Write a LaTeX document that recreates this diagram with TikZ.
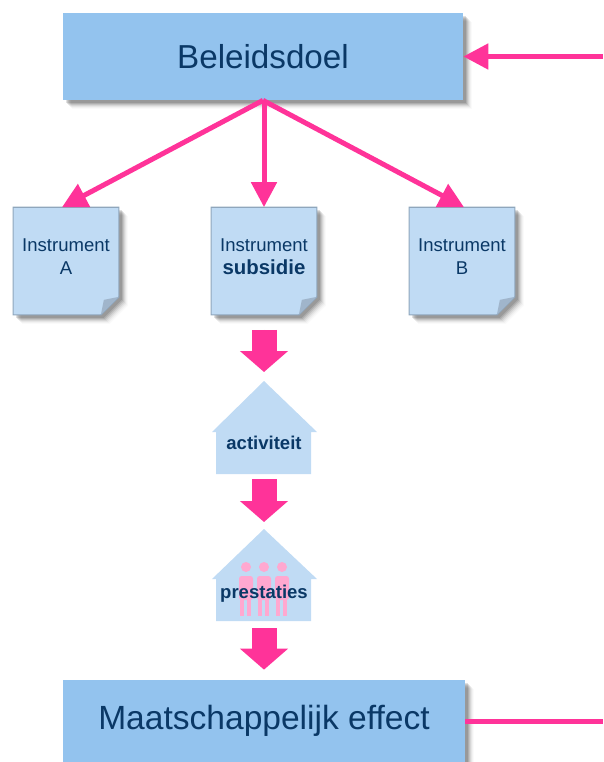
\documentclass[tikz,border=0pt]{standalone}
\usepackage{fontspec}
\setmainfont{Liberation Sans}
\usetikzlibrary{arrows.meta,backgrounds,calc}
\definecolor{doel-bl}{RGB}{147, 195, 238}
\definecolor{inst-bl}{RGB}{192, 219, 244}
\definecolor{inst-ed}{RGB}{143, 166, 188}
\definecolor{inst-fo}{RGB}{160, 181, 203}
\definecolor{text-bl}{RGB}{10, 56, 102}
\definecolor{roze}{RGB}{255, 51, 153}
\definecolor{roze-li}{RGB}{255, 168, 208}
\newlength{\pix}
\setlength{\pix}{0.02cm}
\tikzstyle{softshadow}=[
  preaction={fill=black,opacity=0.02,transform canvas={shift={(9,9)}}},
  preaction={fill=black,opacity=0.03,transform canvas={shift={(8,8)}}},
  preaction={fill=black,opacity=0.05,transform canvas={shift={(7,7)}}},
  preaction={fill=black,opacity=0.07,transform canvas={shift={(6,6)}}},
  preaction={fill=black,opacity=0.09,transform canvas={shift={(5,5)}}},
  preaction={fill=black,opacity=0.11,transform canvas={shift={(4,4)}}},
  preaction={fill=black,opacity=0.12,transform canvas={shift={(3,3)}}}]
\tikzstyle{goal}=[rectangle,softshadow,fill=doel-bl,text=text-bl,inner sep=0pt,font=\fontsize{18.9}{22}\selectfont]
\tikzstyle{notebox}=[rectangle,minimum width=105\pix,minimum height=107\pix,inner sep=0pt]
\tikzstyle{notepaper}=[softshadow,draw=inst-ed,line width=1.2\pix,fill=inst-bl]
\tikzstyle{notetext}=[text=text-bl,align=center,inner sep=0pt,font=\fontsize{10.55}{13}\selectfont]
\tikzstyle{housetext}=[text=text-bl,inner sep=0pt,font=\fontsize{10.55}{13}\selectfont\bfseries]
\tikzstyle{arrow}=[draw=roze,line width=5\pix,-{Triangle[length=0.5cm,width=0.5cm]}]
\tikzstyle{blockarrow}=[draw=roze,fill=roze,line width=25\pix,-{Triangle[length=0.42cm,width=0.94cm]}]

\begin{document}
\begin{tikzpicture}[x=0.02cm,y=-0.02cm]
  \useasboundingbox (0,0) rectangle (603,762);

  % Goal and effect
  \node [goal,minimum width=400\pix,minimum height=87\pix] (doel) at (263,56.5) {Beleidsdoel};
  \node [goal,minimum width=402\pix,minimum height=82\pix,font=\fontsize{19.1}{22}\selectfont] (effect) at (264,721) {Maatschappelijk effect};

  % Instruments
  \node [notebox] (insta) at (66,261) {};
  \node [notebox] (instb) at (264,261) {};
  \node [notebox] (instc) at (462,261) {};

  \begin{scope}[on background layer]
    \foreach \n in {insta,instb,instc} {
      \draw [notepaper] (\n.north west) -- (\n.north east) -- ($(\n.south east)+(0,-18)$) -- ($(\n.south east)+(-18,0)$) -- (\n.south west) -- cycle;
      \fill [inst-fo] ($(\n.south east)+(0,-18)$) -- ($(\n.south east)+(-15,-15)$) -- ($(\n.south east)+(-18,0)$) -- cycle;
    }
  \end{scope}

  \node [notetext] (instalabel) at (66,257) {Instrument\\A};
  \node [notetext] (instblabel) at (264,257) {Instrument\\{\fontsize{11.6}{13}\selectfont\bfseries subsidie}};
  \node [notetext] (instclabel) at (462,257) {Instrument\\B};

  % Houses
  \coordinate (activiteittop) at (264,381);
  \coordinate (activiteitvoet) at (264,474);
  \coordinate (prestatiestop) at (264,529);
  \coordinate (prestatiesvoet) at (264,621);
  \fill [inst-bl] (activiteittop) -- (317,432) -- (311,432) -- (311,474) -- (216,474) -- (216,432) -- (212,432) -- cycle;
  \fill [inst-bl] (prestatiestop) -- (317,579) -- (311,579) -- (311,621) -- (216,621) -- (216,579) -- (212,579) -- cycle;

  \foreach \x in {246,264,282} {
    \fill [roze-li] (\x,567) circle (5);
    \fill [roze-li,rounded corners=1.5] (\x-7,576) rectangle (\x+7,600);
    \fill [roze-li] (\x-6,598) rectangle (\x-2,616);
    \fill [roze-li] (\x+1,598) rectangle (\x+5,616);
  }

  \node [housetext] (activiteit) at (264,443) {activiteit};
  \node [housetext] (prestaties) at (264,594) {prestaties};

  % Arrows
  \coordinate (terug) at (603,56.5);
  \coordinate (uit) at (603,721);
  \draw [arrow] (terug) -- (doel.east);
  \draw [draw=roze,line width=5\pix] (effect.east) -- (uit);
  \draw [arrow] (doel.south) -- ($(insta.north)+(-4,0)$);
  \draw [arrow] (doel.south -| instb.north) -- (instb.north);
  \draw [arrow] (doel.south) -- ($(instc.north)+(2,0)$);

  \draw [blockarrow,shorten <=15\pix,shorten >=9\pix] (instb.south) -- (activiteittop);
  \draw [blockarrow,shorten <=5\pix,shorten >=7\pix] (activiteitvoet) -- (prestatiestop);
  \draw [blockarrow,shorten <=7\pix,shorten >=10\pix] (prestatiesvoet) -- (effect.north);
\end{tikzpicture}
\end{document}
